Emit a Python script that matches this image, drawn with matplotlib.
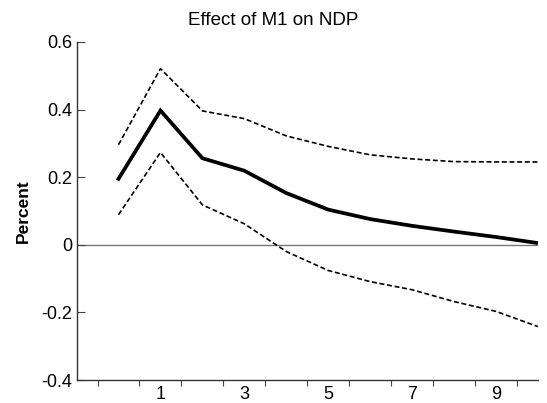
import numpy as np
import matplotlib.pyplot as plt

plt.rcParams['font.family'] = ['Liberation Sans', 'DejaVu Sans']

# impulse response of NDP to an M1 shock, with error bands
periods = np.arange(11)
response = [0.195, 0.397, 0.256, 0.219, 0.153, 0.104, 0.076, 0.056, 0.039, 0.023, 0.005]
upper = [0.296, 0.521, 0.396, 0.373, 0.322, 0.291, 0.266, 0.254, 0.246, 0.245, 0.245]
lower = [0.089, 0.273, 0.118, 0.062, -0.020, -0.076, -0.109, -0.133, -0.168, -0.197, -0.242]

yticks = [-0.4, -0.2, 0, 0.2, 0.4, 0.6]
ylabels = ['-0.4', '-0.2', '0', '0.2', '0.4', '0.6']
xlabels = [1, 3, 5, 7, 9]

fig = plt.figure(figsize=(5.47, 4.03), dpi=100)
ax = fig.add_axes([0.140, 0.057, 0.8435, 0.839])

ax.axhline(0, color='#777777', lw=1.0, zorder=1)
ax.plot(periods, response, color='black', lw=2.7, solid_joinstyle='miter', zorder=3)
ax.plot(periods, upper, color='black', lw=1.2, linestyle=(0, (3, 1.6)), zorder=2)
ax.plot(periods, lower, color='black', lw=1.2, linestyle=(0, (3, 1.6)), zorder=2)

ax.set_xlim(-1, 10)
ax.set_ylim(-0.4, 0.6)

ax.set_yticks(yticks)
ax.set_yticklabels(ylabels, fontsize=13)
ax.tick_params(axis='y', direction='in', length=6, pad=3, color='#444444')

# boundary ticks between periods, labels on the periods themselves
ax.set_xticks(np.arange(-0.5, 10, 1.0))
ax.set_xticklabels([])
ax.tick_params(axis='x', which='major', direction='out', length=4, color='#444444')
ax.set_xticks(xlabels, minor=True)
ax.set_xticklabels([str(v) for v in xlabels], minor=True, fontsize=13)
ax.tick_params(axis='x', which='minor', length=0, pad=4)

for s in ['top', 'right']:
    ax.spines[s].set_visible(False)
for s in ['left', 'bottom']:
    ax.spines[s].set_color('#333333')
    ax.spines[s].set_linewidth(1.0)

ax.set_ylabel('Percent', fontsize=12.5, fontweight='bold')
ax.yaxis.set_label_coords(-0.098, 0.5)
fig.text(0.5, 0.95, 'Effect of M1 on NDP', ha='center', va='center', fontsize=13.5)

fig.savefig('out.png', dpi=100)
